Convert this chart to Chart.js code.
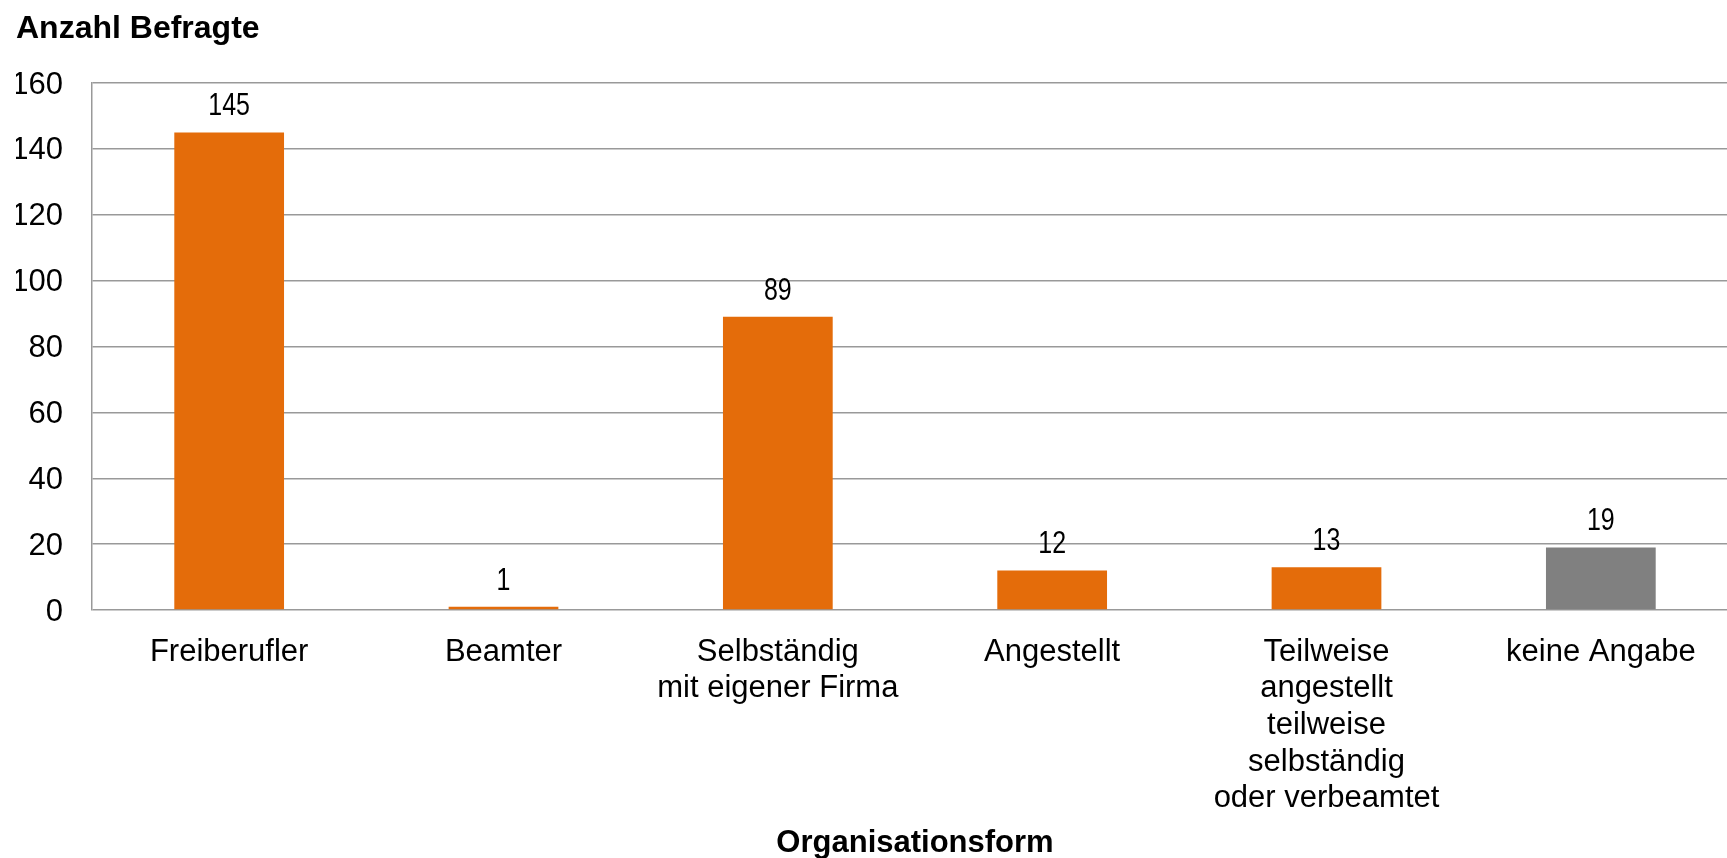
<!DOCTYPE html>
<html lang="de">
<head>
<meta charset="utf-8">
<title>Anzahl Befragte nach Organisationsform</title>
<script src="https://cdn.jsdelivr.net/npm/chart.js@4.4.1/dist/chart.umd.min.js"></script>
<style>
  html, body { margin: 0; padding: 0; background: #fff; overflow: hidden; }
  #wrap { width: 1745px; height: 858px; position: relative; }
</style>
</head>
<body>
<div id="wrap"><canvas id="grafico"></canvas></div>
<script>
// =====================================================
// DATEN
// =====================================================
const kategorien = [
  "Freiberufler",
  "Beamter",
  ["Selbständig", "mit eigener Firma"],
  "Angestellt",
  ["Teilweise", "angestellt", "teilweise", "selbständig", "oder verbeamtet"],
  "keine Angabe"
];
const anzahl = [145, 1, 89, 12, 13, 19];
const farben = ["#E46C0A", "#E46C0A", "#E46C0A", "#E46C0A", "#E46C0A", "#808080"];
const yTicks = [0, 20, 40, 60, 80, 100, 120, 140, 160];

const SCHRIFT = "'Liberation Sans', Arial, Helvetica, sans-serif";

// =====================================================
// WERTE ÜBER DEN BALKEN
// =====================================================
const wertLabels = {
  id: "wertLabels",
  afterDatasetsDraw(chart) {
    const ctx = chart.ctx;
    const meta = chart.getDatasetMeta(0);
    ctx.save();
    ctx.font = "32px " + SCHRIFT;
    ctx.fillStyle = "#000";
    ctx.textAlign = "center";
    ctx.textBaseline = "alphabetic";
    meta.data.forEach((bar, i) => {
      ctx.save();
      ctx.translate(bar.x, bar.y - 17);
      ctx.scale(0.78, 1); // schmale Ziffern wie im Original
      ctx.fillText(String(anzahl[i]), 0, 0);
      ctx.restore();
    });
    ctx.restore();
  }
};

// =====================================================
// DIAGRAMM
// =====================================================
new Chart(document.getElementById("grafico"), {
  type: "bar",
  data: {
    labels: kategorien,
    datasets: [
      {
        data: anzahl,
        backgroundColor: farben,
        borderWidth: 0,
        barPercentage: 0.4,
        categoryPercentage: 1
      }
    ]
  },
  plugins: [wertLabels],
  options: {
    responsive: true,
    maintainAspectRatio: false,
    animation: false,
    layout: { padding: { left: 16, right: 7, top: 0, bottom: 0 } },
    plugins: {
      legend: { display: false },
      tooltip: { enabled: false },
      title: {
        display: true,
        text: "Anzahl Befragte",
        align: "start",
        color: "#000",
        font: { family: SCHRIFT, size: 32, weight: "bold", lineHeight: 1.2 },
        padding: { top: 10, bottom: 34.6 }
      }
    },
    scales: {
      x: {
        grid: { display: false, drawTicks: false },
        border: { display: false },
        ticks: {
          color: "#000",
          font: { family: SCHRIFT, size: 31, lineHeight: 1.18 },
          padding: 24,
          maxRotation: 0,
          autoSkip: false
        },
        title: {
          display: true,
          text: "Organisationsform",
          color: "#000",
          font: { family: SCHRIFT, size: 31, weight: "bold", lineHeight: 1.2 },
          padding: { top: 0, bottom: -4 }
        },
        afterFit(scale) { scale.height = 248; }
      },
      y: {
        min: yTicks[0],
        max: yTicks[yTicks.length - 1],
        ticks: {
          stepSize: yTicks[1] - yTicks[0],
          padding: 29,
          labelOffset: 2,
          color: "#000",
          font: { family: SCHRIFT, size: 31 }
        },
        grid: { color: "#999", lineWidth: 1.5, drawTicks: false },
        border: { display: true, color: "#999", width: 1.5 },
        afterFit(scale) { scale.width = 76; }
      }
    }
  }
});
</script>
</body>
</html>
